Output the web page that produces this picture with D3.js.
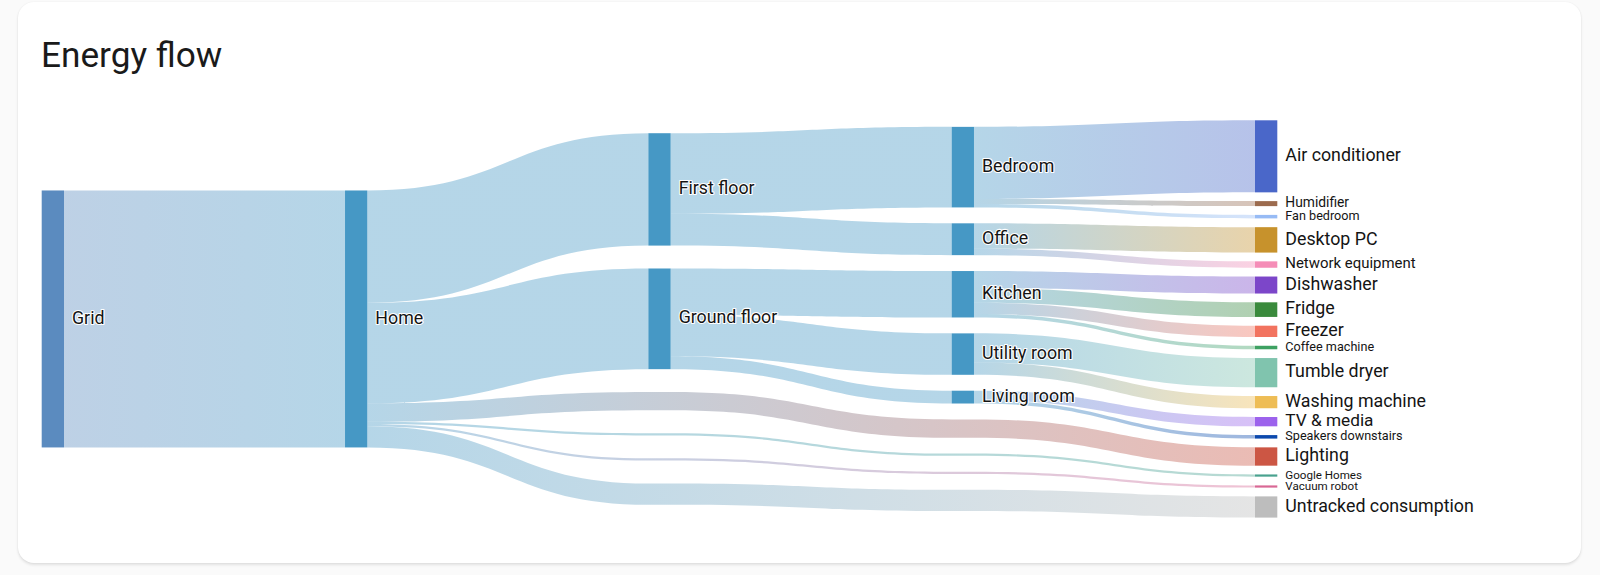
<!DOCTYPE html>
<html>
<head>
<meta charset="utf-8">
<title>Energy flow</title>
<script src="https://cdn.jsdelivr.net/npm/d3@7"></script>
<style>
    body { margin: 0; background: #fafafa; font-family: Roboto, "Noto Sans", sans-serif; }
    .card {
        position: absolute; left: 18px; top: 2px; width: 1563px; height: 561px;
        background: #fff; border-radius: 16px;
        box-shadow: 0 2px 3px rgba(0, 0, 0, 0.10), 0 0 2px rgba(0, 0, 0, 0.06);
    }
    #energyFlow { position: absolute; left: 0; top: 0; }
    .label {
        fill: #141414; stroke: #fff; stroke-width: 2.2px;
        paint-order: stroke; stroke-linejoin: round;
    }
</style>
</head>
<body>
<div class="card"></div>
<div id="energyFlow"></div>
<script>
// ---- data (kWh) ----
const sourceName = "Grid";
const homeName = "Home";
const floors = ["First floor", "Ground floor"];
const rooms = ["Bedroom", "Office", "Kitchen", "Utility room", "Living room"];
const roomFloor = ["First floor", "First floor", "Ground floor", "Ground floor", "Ground floor"];
const devices = ["Air conditioner", "Humidifier", "Fan bedroom", "Desktop PC", "Network equipment",
    "Dishwasher", "Fridge", "Freezer", "Coffee machine", "Tumble dryer", "Washing machine",
    "TV & media", "Speakers downstairs", "Lighting", "Google Homes", "Vacuum robot", "Untracked consumption"];
const deviceParent = ["Bedroom", "Bedroom", "Bedroom", "Office", "Office",
    "Kitchen", "Kitchen", "Kitchen", "Kitchen", "Utility room", "Utility room",
    "Living room", "Living room", "Home", "Home", "Home", "Home"];
const deviceKwh = [7.2, 0.5, 0.35, 2.54, 0.64, 1.7, 1.46, 1.13, 0.35, 2.92, 1.22,
    0.93, 0.35, 1.83, 0.22, 0.22, 2.12];
const deviceColors = ["#4a67c9", "#9c6b4e", "#97bbf5", "#c7922c", "#f58db7",
    "#7c46c9", "#3a8a3c", "#f2735f", "#3ea162", "#80c4ae", "#eebd55",
    "#9c62ec", "#0c49ad", "#cc5644", "#49a28f", "#d96895", "#bdbdbd"];

const gridColor = "#5b8bbf";
const homeColor = "#4698c5";

// ---- layout ----
let svg = d3.select("#energyFlow")
    .append("svg")
    .attr("width", 1600)
    .attr("height", 575);

svg.append("text")
    .attr("x", 41)
    .attr("y", 67)
    .attr("font-size", 35.2)
    .attr("fill", "#1a1a1a")
    .text("Energy flow");

let nodeWidth = 22.3;
let chartTop = 120.3, chartHeight = 397.3;
let centerY = chartTop + chartHeight / 2;
let columnGap = [0, 0, 22.9, 15.9, 8.77];
let x = d3.scaleLinear().domain([0, 4]).range([41.7, 1255]);

let total = d3.sum(deviceKwh);
let columns = [[], [], [], [], []];
let nodeByName = new Map();

function addNode(name, depth, value, color, virtual) {
    let n = {name, depth, value, color, virtual, out: [], in: []};
    columns[depth].push(n);
    if (!virtual) nodeByName.set(name, n);
    return n;
}

let roomValue = r => d3.sum(deviceKwh.filter((v, i) => deviceParent[i] === r));
let floorValue = f => d3.sum(rooms.filter((r, i) => roomFloor[i] === f).map(roomValue));

let grid = addNode(sourceName, 0, total, gridColor, false);
let home = addNode(homeName, 1, total, homeColor, false);
floors.forEach(f => addNode(f, 2, floorValue(f), homeColor, false));
rooms.forEach(r => addNode(r, 3, roomValue(r), homeColor, false));

// flows: chains of nodes, passing through invisible nodes when a column is skipped
let flows = [{path: [grid, home], value: total}];
floors.forEach(f => flows.push({path: [home, nodeByName.get(f)], value: nodeByName.get(f).value}));
rooms.forEach((r, i) => flows.push({path: [nodeByName.get(roomFloor[i]), nodeByName.get(r)], value: nodeByName.get(r).value}));

let direct = [];
devices.forEach((d, i) => {
    let dev = addNode(d, 4, deviceKwh[i], deviceColors[i], false);
    if (deviceParent[i] === homeName) direct.push(dev);
    else flows.push({path: [nodeByName.get(deviceParent[i]), dev], value: deviceKwh[i]});
});
direct.forEach(dev => {
    let v2 = addNode(dev.name, 2, dev.value, null, true);
    let v3 = addNode(dev.name, 3, dev.value, null, true);
    flows.push({path: [home, v2, v3, dev], value: dev.value});
});

let k = (chartHeight - (columns[4].length - 1) * columnGap[4]) / total;
let h = d3.scaleLinear().domain([0, total]).range([0, total * k]);

columns.forEach((col, depth) => {
    let extent = d3.sum(col, n => h(n.value)) + (col.length - 1) * columnGap[depth];
    let y = centerY - extent / 2;
    col.forEach(n => {
        n.x0 = x(depth);
        n.x1 = n.x0 + nodeWidth;
        n.y0 = y;
        n.y1 = y + h(n.value);
        y = n.y1 + columnGap[depth];
    });
});

flows.forEach(f => {
    f.segs = d3.pairs(f.path).map(([s, t]) => {
        let seg = {source: s, target: t, width: h(f.value)};
        s.out.push(seg);
        t.in.push(seg);
        return seg;
    });
});

columns.flat().forEach(n => {
    let y = n.y0;
    n.out.sort((a, b) => a.target.y0 - b.target.y0).forEach(s => { s.sy0 = y; y += s.width; });
    y = n.y0;
    n.in.sort((a, b) => a.source.y0 - b.source.y0).forEach(s => { s.ty0 = y; y += s.width; });
});

function flowArea(f) {
    let p = d3.path();
    let segs = f.segs;
    p.moveTo(segs[0].source.x1, segs[0].sy0);
    segs.forEach(s => {
        let xm = (s.source.x1 + s.target.x0) / 2;
        p.lineTo(s.source.x1, s.sy0);
        p.bezierCurveTo(xm, s.sy0, xm, s.ty0, s.target.x0, s.ty0);
    });
    for (let j = segs.length - 1; j >= 0; j--) {
        let s = segs[j];
        let xm = (s.source.x1 + s.target.x0) / 2;
        p.lineTo(s.target.x0, s.ty0 + s.width);
        p.bezierCurveTo(xm, s.ty0 + s.width, xm, s.sy0 + s.width, s.source.x1, s.sy0 + s.width);
    }
    p.closePath();
    return p.toString();
}

// ---- draw ----
let defs = svg.append("defs");
flows.forEach((f, i) => {
    let s = f.path[0], t = f.path[f.path.length - 1];
    let g = defs.append("linearGradient")
        .attr("id", "flow-" + i)
        .attr("gradientUnits", "userSpaceOnUse")
        .attr("x1", s.x1).attr("x2", t.x0)
        .attr("y1", 0).attr("y2", 0);
    g.append("stop").attr("offset", 0).attr("stop-color", s.color);
    g.append("stop").attr("offset", 1).attr("stop-color", t.color);
});

svg.append("g")
    .selectAll("path")
    .data(flows)
    .enter().append("path")
    .attr("d", flowArea)
    .attr("fill", (d, i) => "url(#flow-" + i + ")")
    .attr("fill-opacity", 0.4);

let realNodes = columns.flat().filter(n => !n.virtual);

svg.append("g")
    .selectAll("rect")
    .data(realNodes)
    .enter().append("rect")
    .attr("x", d => d.x0)
    .attr("y", d => d.y0)
    .attr("width", d => d.x1 - d.x0)
    .attr("height", d => d.y1 - d.y0)
    .attr("fill", d => d.color);

// label size grows with node height, then levels off
let fontSize = d3.scaleLinear().domain([2.2, 10]).range([11.6, 17.8]).clamp(true);

svg.append("g")
    .selectAll("text")
    .data(realNodes)
    .enter().append("text")
    .attr("class", "label")
    .attr("x", d => d.x1 + 8)
    .attr("y", d => (d.y0 + d.y1) / 2)
    .attr("dy", "0.26em")
    .attr("font-size", d => fontSize(d.y1 - d.y0))
    .text(d => d.name);
</script>
</body>
</html>
